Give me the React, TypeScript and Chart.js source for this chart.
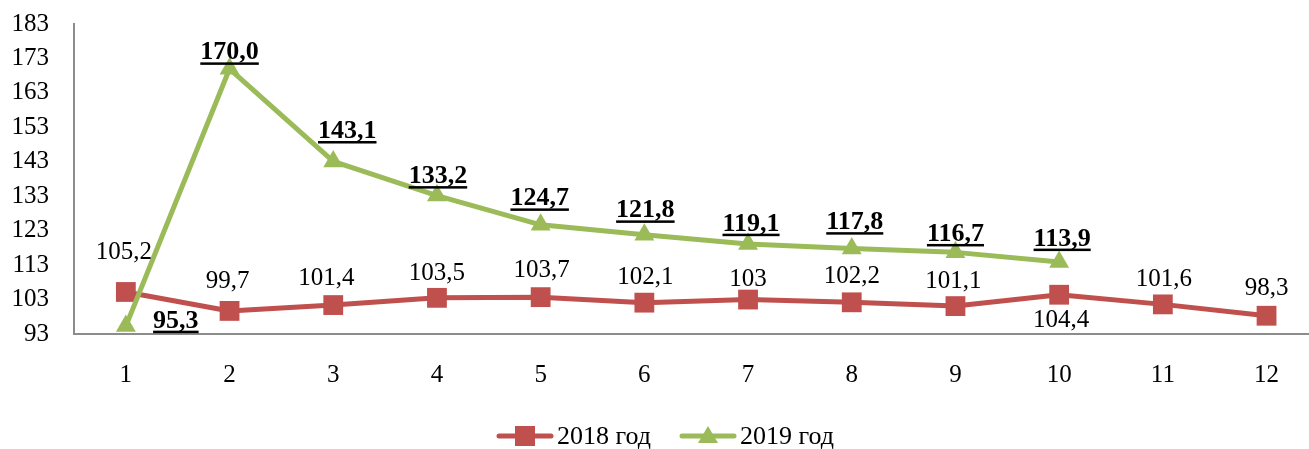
import React, { useEffect, useRef } from "react";
import { Chart, registerables } from "chart.js";

Chart.register(...registerables);

// ---- data ----
const categories = ["1", "2", "3", "4", "5", "6", "7", "8", "9", "10", "11", "12"];
const values2018 = [105.2, 99.7, 101.4, 103.5, 103.7, 102.1, 103, 102.2, 101.1, 104.4, 101.6, 98.3];
const values2019 = [95.3, 170.0, 143.1, 133.2, 124.7, 121.8, 119.1, 117.8, 116.7, 113.9];
const yTickValues = [93, 103, 113, 123, 133, 143, 153, 163, 173, 183];
const seriesNames = ["2018 год", "2019 год"];

// ---- styles ----
const RED = "#C0504D";
const GREEN = "#9BBB59";
const AXIS = "#8C8C8C";
const FONT = "'Liberation Serif', 'Times New Roman', serif";

// label offsets (dx, dy) relative to point, per series
const offsets2018: [number, number][] = [
  [-2, -41], [-2, -31], [-7, -28], [0, -26], [1, -28], [1, -27],
  [0, -22], [0, -28], [-2, -26], [2, 24], [1, -27], [0, -29],
];
const offsets2019: [number, number][] = [
  [50, -7], [0, -18], [14, -32], [1, -21], [-1, -28], [1, -26],
  [3, -22], [3, -28], [0, -20], [3, -25],
];

const labelCfg = [
  { size: 25, bold: false, underline: false, offsets: offsets2018, fmt: (v: number) => String(v).replace(".", ",") },
  { size: 26, bold: true, underline: true, offsets: offsets2019, fmt: (v: number) => v.toFixed(1).replace(".", ",") },
];

const valueLabels = {
  id: "valueLabels",
  afterDatasetsDraw(chart: any) {
    const ctx = chart.ctx;
    chart.data.datasets.forEach((ds: any, di: number) => {
      const cfg = labelCfg[di];
      const meta = chart.getDatasetMeta(di);
      meta.data.forEach((el: any, i: number) => {
        const v = ds.data[i].y;
        const text = cfg.fmt(v);
        const [dx, dy] = cfg.offsets[i] || [0, -27];
        const x = el.x + dx;
        const base = el.y + dy + cfg.size * 0.33;
        ctx.save();
        ctx.font = `${cfg.bold ? "bold " : ""}${cfg.size}px ${FONT}`;
        ctx.fillStyle = "#000";
        ctx.textAlign = "center";
        ctx.textBaseline = "alphabetic";
        ctx.fillText(text, x, base);
        if (cfg.underline) {
          const w = ctx.measureText(text).width;
          ctx.fillRect(x - w / 2, base + 3, w, 2.5);
        }
        ctx.restore();
      });
    });
  },
};

const legendItems = [
  { text: seriesNames[0], color: RED, style: "rect", x0: 497 },
  { text: seriesNames[1], color: GREEN, style: "triangle", x0: 680 },
];

const customLegend = {
  id: "customLegend",
  afterDraw(chart: any) {
    const ctx = chart.ctx;
    const y = 436;
    legendItems.forEach((it) => {
      ctx.save();
      ctx.strokeStyle = it.color;
      ctx.fillStyle = it.color;
      ctx.lineWidth = 5;
      ctx.lineCap = "round";
      ctx.beginPath();
      ctx.moveTo(it.x0 + 2, y);
      ctx.lineTo(it.x0 + 54, y);
      ctx.stroke();
      const cx = it.x0 + 28;
      if (it.style === "rect") {
        ctx.fillRect(cx - 10, y - 10, 20, 20);
      } else {
        ctx.beginPath();
        ctx.moveTo(cx, y - 10);
        ctx.lineTo(cx + 10, y + 7);
        ctx.lineTo(cx - 10, y + 7);
        ctx.closePath();
        ctx.fill();
      }
      ctx.fillStyle = "#000";
      ctx.font = `26px ${FONT}`;
      ctx.textAlign = "left";
      ctx.textBaseline = "middle";
      ctx.fillText(it.text, it.x0 + 60, y + 1);
      ctx.restore();
    });
  },
};

export default function App() {
  const ref = useRef<HTMLCanvasElement | null>(null);

  useEffect(() => {
    if (!ref.current) return;
    const toPts = (arr: number[]) => arr.map((v, i) => ({ x: i + 1, y: v }));
    const chart = new Chart(ref.current, {
      type: "line",
      data: {
        datasets: [
          {
            label: seriesNames[0],
            data: toPts(values2018),
            borderColor: RED,
            backgroundColor: RED,
            borderWidth: 5,
            pointStyle: "rect",
            pointRadius: 14,
            pointBorderWidth: 0,
            pointHoverRadius: 14,
            borderCapStyle: "round",
            borderJoinStyle: "round",
            tension: 0,
            order: 1,
          },
          {
            label: seriesNames[1],
            data: toPts(values2019),
            borderColor: GREEN,
            backgroundColor: GREEN,
            borderWidth: 5,
            pointStyle: "triangle",
            pointRadius: 11.5,
            pointBorderWidth: 0,
            pointHoverRadius: 11.5,
            borderCapStyle: "round",
            borderJoinStyle: "round",
            tension: 0,
            order: 0,
          },
        ],
      },
      options: {
        responsive: false,
        animation: false,
        devicePixelRatio: 1,
        layout: { autoPadding: false, padding: { top: 24, left: 0, right: 0, bottom: 0 } },
        plugins: {
          legend: { display: false },
          tooltip: { enabled: false },
        },
        events: [],
        scales: {
          x: {
            type: "linear",
            min: 0.5,
            max: 0.5 + (1309 - 74) / 103.7,
            grid: { display: false, drawTicks: false },
            border: { display: true, color: AXIS, width: 2 },
            afterFit: (scale: any) => {
              scale.height = 115;
              scale.paddingLeft = 0;
              scale.paddingRight = 0;
            },
            afterBuildTicks: (scale: any) => {
              scale.ticks = categories.map((_, i) => ({ value: i + 1 }));
            },
            ticks: {
              autoSkip: false,
              maxRotation: 0,
              padding: 26,
              color: "#000",
              font: { family: FONT, size: 25 },
              callback: (v: any) => categories[Number(v) - 1] ?? "",
            },
          },
          y: {
            type: "linear",
            min: yTickValues[0],
            max: yTickValues[yTickValues.length - 1],
            grid: { display: false, drawTicks: false },
            border: { display: true, color: AXIS, width: 2 },
            afterFit: (scale: any) => {
              scale.width = 74;
              scale.paddingTop = 0;
              scale.paddingBottom = 0;
            },
            afterBuildTicks: (scale: any) => {
              scale.ticks = yTickValues.map((v) => ({ value: v }));
            },
            ticks: {
              autoSkip: false,
              padding: 25,
              color: "#000",
              font: { family: FONT, size: 25 },
              callback: (v: any) => String(v),
            },
          },
        },
      },
      plugins: [valueLabels, customLegend],
    });
    return () => chart.destroy();
  }, []);

  return (
    <div style={{ position: "fixed", left: 0, top: 0, width: 1309, height: 449, background: "#fff" }}>
      <canvas ref={ref} width={1309} height={449} style={{ display: "block", width: 1309, height: 449 }} />
    </div>
  );
}
